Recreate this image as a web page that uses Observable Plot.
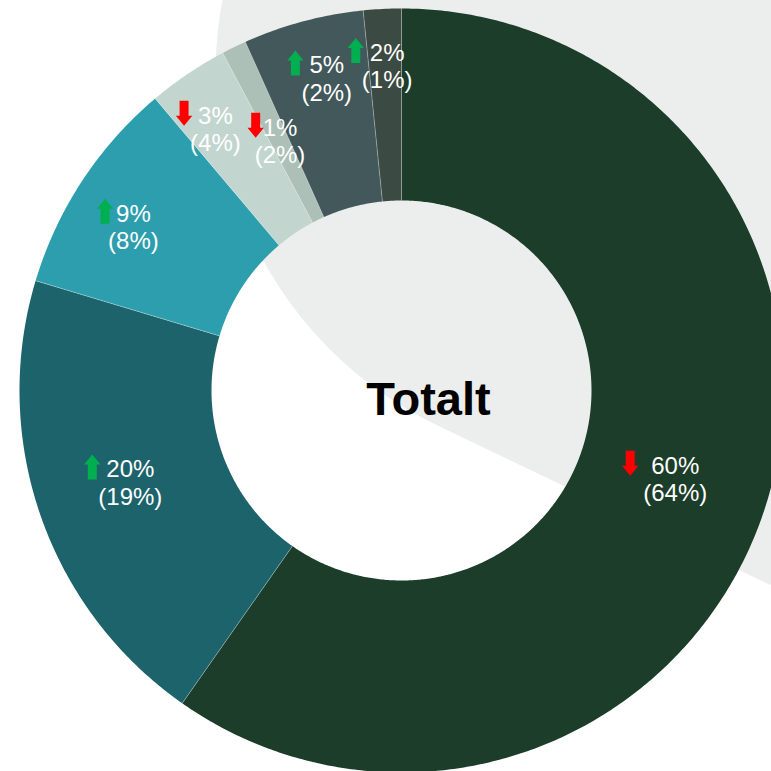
<!DOCTYPE html>
<html>
<head>
<meta charset="utf-8">
<script src="https://cdn.jsdelivr.net/npm/d3@7"></script>
<script src="https://cdn.jsdelivr.net/npm/@observablehq/plot@0.6"></script>
<style>
  html, body { margin: 0; padding: 0; background: #ffffff; overflow: hidden; }
  #chart svg { display: block; }
</style>
</head>
<body>
<div id="chart"></div>
<script>
// ---------- data ----------
const categories    = ["Del 1", "Del 2", "Del 3", "Del 4", "Del 5", "Del 6", "Del 7"];
const currentShare  = [60, 20, 9, 3, 1, 5, 2];          // label, this period (%)
const previousShare = [64, 19, 8, 4, 2, 2, 1];          // label in brackets (%)
const sliceSize     = [59.7, 19.9, 9.2, 3.4, 1.05, 5.1, 1.6]; // slice sizes as drawn
const sliceColors   = ["#1b3d2a", "#1d636c", "#2c9eae", "#c2d6cf", "#adc0b8", "#42585a", "#3b4a42"];
const centerTitle   = "Totalt";

// ---------- layout ----------
const W = 771, H = 771;
const CX = 401, CY = 390;          // donut centre (px)
const R_OUT = 382, R_IN = 190, R_MID = (R_OUT + R_IN) / 2;
const labelNudge = [[1, 2], [-1, -2], [-29, -7], [-26, -25], [4, 7], [-1, -36], [0, -39]];
const arrowGap   = [21, 14, 11, 14, 7, 14, 14];
const FONT = "Liberation Sans, Arial, Helvetica, sans-serif";
const FS = 24, LH = 1.15;
const UP = "#00b050", DOWN = "#ff0000";
// decorative grey backdrop: a rounded band behind the chart
const backdrop = {cx: 605 - CX, cy: 73 - CY, r: 390, angle: 25.6};

// ---------- geometry ----------
const total = d3.sum(sliceSize);
let acc = 0;
const slices = sliceSize.map((v, i) => {
  const a0 = acc / total * 2 * Math.PI; acc += v;
  const a1 = acc / total * 2 * Math.PI;
  return {i, key: categories[i], a0, a1};
});
const px = (r, a) => r * Math.sin(a);
const py = (r, a) => -r * Math.cos(a);

const ringPts = [];
for (const s of slices) {
  const n = Math.max(2, Math.ceil((s.a1 - s.a0) / (Math.PI / 360)));
  for (let k = 0; k <= n; k++) {
    const a = s.a0 + (s.a1 - s.a0) * k / n;
    ringPts.push({key: s.key, x: px(R_OUT, a), y: py(R_OUT, a)});
  }
  for (let k = n; k >= 0; k--) {
    const a = s.a0 + (s.a1 - s.a0) * k / n;
    ringPts.push({key: s.key, x: px(R_IN, a), y: py(R_IN, a)});
  }
}

const ctx = document.createElement("canvas").getContext("2d");
ctx.font = `${FS}px ${FONT}`;

const labels = slices.map(s => {
  const mid = (s.a0 + s.a1) / 2;
  const lx = px(R_MID, mid) + labelNudge[s.i][0];
  const ly = py(R_MID, mid) + labelNudge[s.i][1];
  const line1 = `${currentShare[s.i]}%`;
  const w1 = ctx.measureText(line1).width;
  return {
    i: s.i, lx, ly,
    text: `${line1}\n(${previousShare[s.i]}%)`,
    ax: lx - w1 / 2 - arrowGap[s.i],
    ay: ly - FS * LH / 2 - 1.5,
    up: currentShare[s.i] >= previousShare[s.i]
  };
});

// block arrow polygons (25px long, 16.4px head)
const L = 25, HL = 10, HW = 8.2, SW = 4.5;
function arrowPoly(d) {
  const s = d.up ? 1 : -1;            // up: tip at top
  const top = -L / 2, neck = -L / 2 + HL, bot = L / 2;
  const pts = [[-SW, bot], [-SW, neck], [-HW, neck], [0, top], [HW, neck], [SW, neck], [SW, bot]];
  return pts.map(([x, y]) => ({id: d.i, x: d.ax + x, y: d.ay + s * y}));
}
const upArrows = labels.filter(d => d.up).flatMap(arrowPoly);
const downArrows = labels.filter(d => !d.up).flatMap(arrowPoly);

const th = backdrop.angle * Math.PI / 180;
const bandPts = [
  {x: backdrop.cx, y: backdrop.cy},
  {x: backdrop.cx + 2000 * Math.cos(th), y: backdrop.cy + 2000 * Math.sin(th)}
];

const chart = Plot.plot({
  width: W, height: H, margin: 0,
  x: {domain: [-CX, W - CX], range: [0, W], axis: null},
  y: {domain: [-CY, H - CY], range: [0, H], axis: null},
  color: {domain: categories, range: sliceColors},
  style: {background: "#ffffff", fontFamily: FONT, overflow: "hidden"},
  marks: [
    Plot.line(bandPts, {x: "x", y: "y", stroke: "#eceeed", strokeWidth: backdrop.r * 2, strokeLinecap: "round"}),
    Plot.line(ringPts, {x: "x", y: "y", z: "key", fill: "key", stroke: "none", curve: "linear"}),
    Plot.link(slices, {
      x1: d => px(R_IN, d.a0), y1: d => py(R_IN, d.a0),
      x2: d => px(R_OUT, d.a0), y2: d => py(R_OUT, d.a0),
      stroke: "#ffffff", strokeOpacity: 0.4, strokeWidth: 0.8
    }),
    Plot.text(labels, {
      x: "lx", y: "ly", text: "text", fill: "#ffffff",
      fontSize: FS, fontFamily: FONT, lineHeight: LH,
      textAnchor: "middle", lineAnchor: "middle"
    }),
    Plot.line(upArrows, {x: "x", y: "y", z: "id", fill: UP, stroke: "none"}),
    Plot.line(downArrows, {x: "x", y: "y", z: "id", fill: DOWN, stroke: "none"}),
    Plot.text([centerTitle], {
      x: () => 0, y: () => 0, text: d => d, dx: 27, dy: 9,
      fontSize: 47, fontWeight: "bold", fontFamily: FONT, fill: "#000000",
      textAnchor: "middle", lineAnchor: "middle"
    })
  ]
});
document.getElementById("chart").appendChild(chart);
</script>
</body>
</html>
